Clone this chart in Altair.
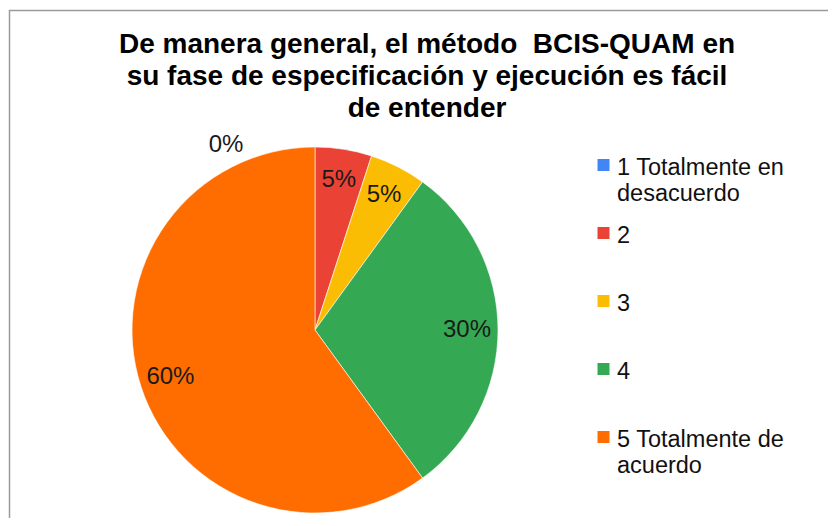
import altair as alt
import pandas as pd

TITLE_LINES = [
    "De manera general, el método\u00a0 BCIS-QUAM en",
    "su fase de especificación y ejecución es fácil",
    "de entender",
]
CATEGORIES = ["1 Totalmente en desacuerdo", "2", "3", "4", "5 Totalmente de acuerdo"]
LEGEND_LINES = [["1 Totalmente en", "desacuerdo"], ["2"], ["3"], ["4"], ["5 Totalmente de", "acuerdo"]]
PERCENTS = [0, 5, 5, 30, 60]
COLORS = ["#4285F4", "#EA4335", "#FBBC04", "#34A853", "#FF6D01"]

FONT = "Liberation Sans"
W, H = 820, 510
CX, CY, R = 307, 322, 183

df = pd.DataFrame({
    "cat": CATEGORIES,
    "pct": PERCENTS,
    "order": list(range(len(CATEGORIES))),
    "legend": LEGEND_LINES,
})

base = alt.Chart(df)
color = alt.Color("cat:N", scale=alt.Scale(domain=CATEGORIES, range=COLORS), legend=None)
theta = alt.Theta("pct:Q", stack=True, scale=alt.Scale(domain=[0, 100]))
order = alt.Order("order:Q", sort="ascending")

pie = base.mark_arc(outerRadius=R, stroke="white", strokeWidth=0.6).encode(
    theta=theta, color=color, order=order, x=alt.value(CX), y=alt.value(CY)
)

labels = base.transform_filter("datum.pct > 0").transform_calculate(
    label="datum.pct + '%'"
).mark_text(radius=152, fontSize=24, font=FONT, color="#1a1a1a").encode(
    theta=theta, order=order, text="label:N", x=alt.value(CX), y=alt.value(CY)
)

zero_labels = base.transform_filter("datum.pct == 0").transform_calculate(
    label="datum.pct + '%'"
).mark_text(radius=185, dx=-89, fontSize=24, font=FONT, color="#1a1a1a").encode(
    theta=theta, order=order, text="label:N", x=alt.value(CX), y=alt.value(CY)
)

yscale = alt.Scale(domain=[0, 4], range=[157, 429])
leg_sym = base.mark_square(size=144, opacity=1).encode(
    x=alt.value(595.5), y=alt.Y("order:Q", scale=yscale, axis=None), color=color
)
leg_txt = base.mark_text(
    align="left", baseline="middle", fontSize=23.5, lineHeight=26, dy=3, font=FONT, color="#111111"
).encode(x=alt.value(609), y=alt.Y("order:Q", scale=yscale, axis=None), text="legend")

title = alt.Chart(pd.DataFrame({"t": [0]})).mark_text(
    text=TITLE_LINES, align="center", baseline="alphabetic", fontSize=28, fontWeight="bold",
    lineHeight=32, font=FONT, color="#000000"
).encode(x=alt.value(419), y=alt.value(45))

border_top = alt.Chart(pd.DataFrame({"t": [0]})).mark_rule(color="#9a9a9a", strokeWidth=1.5).encode(
    x=alt.value(1), x2=alt.value(W), y=alt.value(2.5)
)
border_left = alt.Chart(pd.DataFrame({"t": [0]})).mark_rule(color="#9a9a9a", strokeWidth=1.5).encode(
    x=alt.value(1.5), y=alt.value(2), y2=alt.value(H)
)

chart = alt.layer(
    border_top, border_left, pie, labels, zero_labels, leg_sym, leg_txt, title
).properties(
    width=W, height=H, autosize="none", padding=0, background="white"
).configure_view(stroke=None)

chart.save("out.html", embed_options={"renderer": "svg", "actions": False})
